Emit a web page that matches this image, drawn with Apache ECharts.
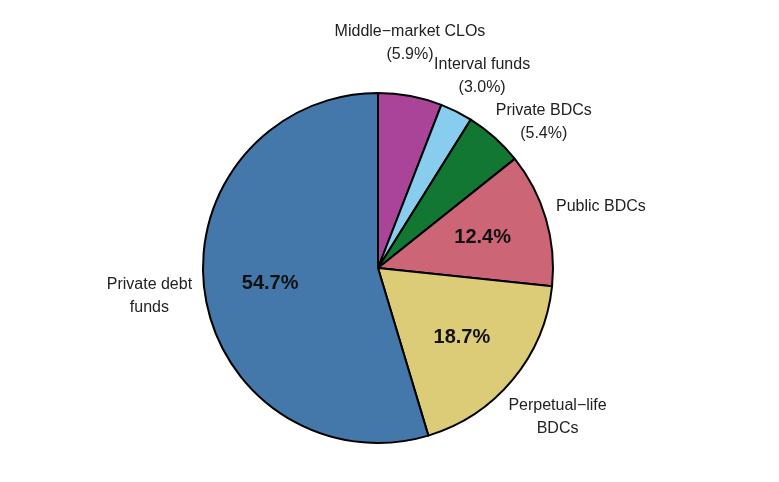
<!DOCTYPE html>
<html>
<head>
<meta charset="utf-8">
<script src="https://cdn.jsdelivr.net/npm/echarts@6/dist/echarts.min.js"></script>
<style>
html, body { margin: 0; padding: 0; background: #fff; }
#chart { width: 779px; height: 482px; }
</style>
</head>
<body>
<div id="chart"></div>
<script>
var categories = ["Middle−market CLOs", "Interval funds", "Private BDCs", "Public BDCs", "Perpetual−life BDCs", "Private debt funds"];
var labelNames = ["Middle−market CLOs", "Interval funds", "Private BDCs", "Public BDCs", "Perpetual−life\nBDCs", "Private debt\nfunds"];
var shares = [5.9, 3.0, 5.4, 12.4, 18.7, 54.7];
var colors = ["#AA4499", "#88CCEE", "#117733", "#CC6677", "#DDCC77", "#4477AA"];
// small nudges for the outer labels
var labelOffsets = [[-10, -1], [2, 12], [14, 24], [4, 2], [4, 4], [-3, -5]];

var font = "Liberation Sans, Arial, sans-serif";
var center = [378, 268];

function isSmall(v) { return v < 10; }

var pieData = categories.map(function (c, i) {
	return { name: c, value: shares[i], itemStyle: { color: colors[i] } };
});

var innerData = categories.map(function (c, i) {
	return {
		name: c,
		value: shares[i],
		label: { show: !isSmall(shares[i]) }
	};
});

var outerData = categories.map(function (c, i) {
	return {
		name: c,
		value: shares[i],
		label: { offset: labelOffsets[i] }
	};
});

var blank = {
	type: "pie",
	center: center,
	startAngle: 90,
	clockwise: true,
	silent: true,
	animation: false,
	avoidLabelOverlap: false,
	labelLayout: { hideOverlap: false },
	itemStyle: { color: "transparent", borderWidth: 0 },
	emphasis: { disabled: true },
	labelLine: { show: false }
};

var chart = echarts.init(document.getElementById("chart"));
chart.setOption({
	backgroundColor: "#fff",
	animation: false,
	series: [
		{
			type: "pie",
			center: center,
			radius: [0, 175],
			startAngle: 90,
			clockwise: true,
			silent: true,
			itemStyle: { borderColor: "#000", borderWidth: 2 },
			label: { show: false },
			labelLine: { show: false },
			data: pieData
		},
		Object.assign({}, blank, {
			radius: [0, 212],
			label: {
				show: true,
				position: "inside",
				rotate: 0,
				fontFamily: font,
				fontSize: 20,
				fontWeight: "bold",
				color: "#111",
				formatter: function (p) { return p.value.toFixed(1) + "%"; }
			},
			data: innerData
		}),
		Object.assign({}, blank, {
			radius: [175, 275],
			label: {
				show: true,
				position: "inside",
				rotate: 0,
				fontFamily: font,
				fontSize: 16,
				lineHeight: 23,
				align: "center",
				color: "#222",
				formatter: function (p) {
					var t = labelNames[p.dataIndex];
					if (isSmall(p.value)) t += "\n(" + p.value.toFixed(1) + "%)";
					return t;
				}
			},
			data: outerData
		})
	]
});
window.addEventListener("resize", function () { chart.resize(); });
</script>
</body>
</html>
